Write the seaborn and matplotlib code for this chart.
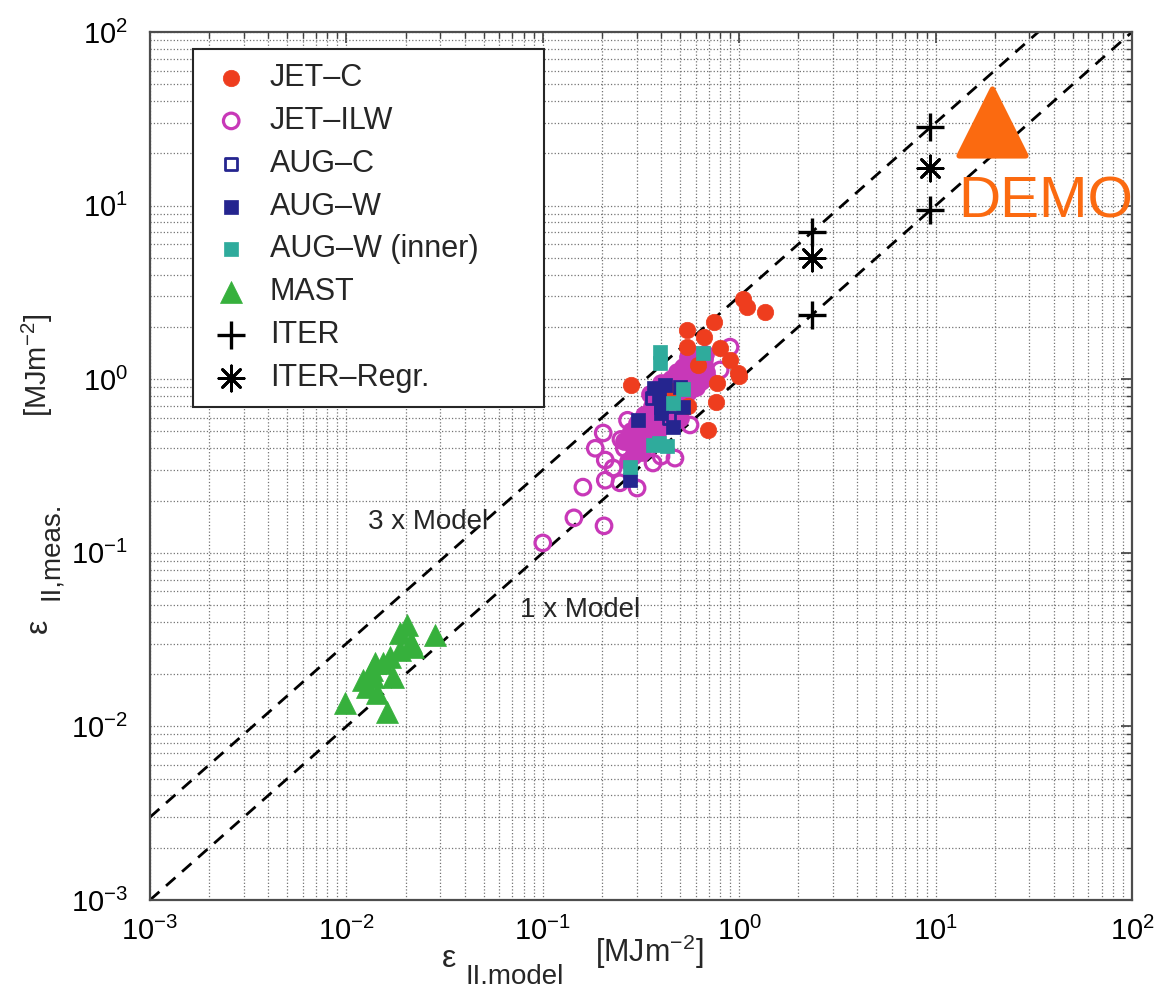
import numpy as np
import pandas as pd
import matplotlib
matplotlib.use("Agg")
import matplotlib.pyplot as plt
import seaborn as sns
from matplotlib.ticker import LogLocator, LogFormatterSciNotation, NullFormatter

# ---- data (MJ m^-2) ----
jet_c_x = [1.05, 1.10, 1.35, 0.74, 0.54, 0.66, 0.80, 0.90, 0.99, 0.28, 0.77, 0.76, 0.69, 0.54, 0.45, 0.55, 0.62, 1.00]
jet_c_y = [2.90, 2.60, 2.45, 2.14, 1.92, 1.75, 1.51, 1.29, 1.09, 0.93, 0.95, 0.74, 0.51, 1.53, 0.85, 0.70, 1.20, 1.05]

# JET-ILW: outer (isolated) circles and the dense core
jet_ilw_outer_x = [0.160, 0.208, 0.247, 0.302, 0.208, 0.228, 0.203, 0.364, 0.471, 0.40, 0.562, 0.898, 0.80,
                   0.100, 0.144, 0.205, 0.185, 0.25, 0.27, 0.33,
                   0.26, 0.28, 0.30, 0.32, 0.34, 0.36, 0.38, 0.40, 0.42, 0.44, 0.46, 0.48, 0.50, 0.52, 0.54,
                   0.56, 0.58, 0.60, 0.63, 0.66, 0.29, 0.33, 0.37, 0.41, 0.45, 0.49, 0.53, 0.57, 0.61, 0.65]
jet_ilw_outer_y = [0.239, 0.262, 0.253, 0.236, 0.342, 0.308, 0.490, 0.329, 0.351, 0.36, 0.545, 1.53, 1.13,
                   0.114, 0.159, 0.143, 0.40, 0.45, 0.58, 0.62,
                   0.40, 0.43, 0.48, 0.52, 0.58, 0.60, 0.68, 0.72, 0.80, 0.85, 0.90, 0.95, 1.02, 1.05, 1.12,
                   1.15, 1.20, 1.22, 1.28, 1.38, 0.36, 0.43, 0.50, 0.60, 0.70, 0.82, 0.88, 0.98, 1.02, 1.15]
jet_ilw_core_x = [0.26, 0.27, 0.28, 0.29, 0.30, 0.31, 0.32, 0.33, 0.34, 0.35, 0.36, 0.37, 0.38, 0.39,
                  0.40, 0.41, 0.42, 0.43, 0.44, 0.45, 0.46, 0.47, 0.48, 0.49, 0.50, 0.52, 0.53, 0.55, 0.56,
                  0.58, 0.60, 0.62, 0.64, 0.66, 0.68, 0.30, 0.34, 0.38, 0.42, 0.46, 0.50, 0.54, 0.58,
                  0.62, 0.35, 0.40, 0.45, 0.50, 0.55, 0.60,
                  0.29, 0.31, 0.33, 0.35, 0.37, 0.39, 0.41, 0.43, 0.45, 0.47, 0.49, 0.51, 0.53, 0.55,
                  0.57, 0.59, 0.61, 0.63, 0.65, 0.67, 0.31, 0.36, 0.41, 0.46, 0.51, 0.56, 0.61, 0.66]
jet_ilw_core_y = [0.44, 0.34, 0.50, 0.41, 0.56, 0.47, 0.38, 0.62, 0.52, 0.44, 0.70, 0.58, 0.49, 0.80,
                  0.66, 0.55, 0.90, 0.74, 0.62, 1.00, 0.82, 0.68, 1.10, 0.92, 0.76, 1.18, 1.00, 0.84, 1.25,
                  1.08, 1.38, 1.15, 0.98, 1.30, 1.10, 0.46, 0.56, 0.64, 0.70, 0.78, 0.86, 0.94, 1.00,
                  1.05, 0.82, 0.95, 0.55, 0.60, 1.35, 0.90,
                  0.46, 0.51, 0.55, 0.60, 0.64, 0.71, 0.75, 0.82, 0.88, 0.93, 0.99, 1.06, 1.10, 1.17,
                  1.20, 1.26, 1.30, 1.33, 1.25, 1.40, 0.44, 0.54, 0.62, 0.74, 0.82, 0.92, 1.10, 1.20]

aug_c_x = [0.36, 0.44]
aug_c_y = [0.78, 0.60]

aug_w_x = [0.419, 0.50, 0.39, 0.40, 0.305, 0.40, 0.46, 0.278, 0.52, 0.37]
aug_w_y = [0.926, 0.90, 0.79, 0.69, 0.582, 0.64, 0.53, 0.262, 0.69, 0.89]

aug_w_inner_x = [0.395, 0.395, 0.655, 0.46, 0.39, 0.43, 0.365, 0.278, 0.52]
aug_w_inner_y = [1.435, 1.24, 1.42, 0.73, 0.43, 0.41, 0.42, 0.312, 0.88]

mast_x = [0.0204, 0.0282, 0.0214, 0.0187, 0.0167, 0.0219, 0.0140, 0.0137, 0.0173, 0.0127, 0.0135,
          0.0143, 0.0098, 0.0161, 0.0122, 0.0154, 0.0187]
mast_y = [0.0384, 0.0336, 0.0306, 0.0275, 0.0251, 0.0285, 0.0232, 0.0193, 0.0193, 0.0169, 0.0211,
          0.0156, 0.0136, 0.0121, 0.0184, 0.0232, 0.0343]

iter_x = [2.35, 2.35, 9.4, 9.4]
iter_y = [7.05, 2.35, 28.2, 9.4]

iter_regr_x = [2.35, 9.4]
iter_regr_y = [5.0, 16.5]

demo_x = [19.4]
demo_y = [30.5]

model_range = [1e-3, 1e2]
model_factors = [3, 1]

legend_order = ["JET–C", "JET–ILW", "AUG–C", "AUG–W", "AUG–W (inner)", "MAST", "ITER", "ITER–Regr."]

# ---- style ----
sns.set_style("white")
plt.rcParams["font.family"] = ["Liberation Sans", "DejaVu Sans"]
plt.rcParams["mathtext.fontset"] = "custom"
plt.rcParams["mathtext.rm"] = "Liberation Sans"
plt.rcParams["mathtext.it"] = "Liberation Sans:italic"
plt.rcParams["axes.unicode_minus"] = True

FS = 20
C_JETC = "#ee3d1e"
C_ILW = "#c838b8"
C_AUG = "#25258f"
C_INNER = "#2fab9c"
C_MAST = "#36b03c"
C_DEMO = "#fb6a10"

W, H = 1163, 993


def df(xs, ys):
    return pd.DataFrame({"x": xs, "y": ys})


def fx(px):
    return px / W


def fy(py):
    return 1 - py / H


fig = plt.figure(figsize=(11.63, 9.93), dpi=100)
ax = fig.add_axes([150 / W, 93 / H, 982 / W, 868 / H])
ax.set_xscale("log")
ax.set_yscale("log")

# model lines
mr = np.array(model_range)
for f in model_factors:
    ax.plot(mr, f * mr, color="black", lw=2.0, ls=(0, (4.5, 3.2)), zorder=2)

# scatter series
# dense core of JET-ILW: overlapping rings read as a solid patch in the reference
sns.scatterplot(data=df(jet_ilw_core_x, jet_ilw_core_y), x="x", y="y", ax=ax, marker="o", s=125,
                color=C_ILW, edgecolor=C_ILW, linewidth=2.3, zorder=3, legend=False)
sns.scatterplot(data=df(jet_ilw_outer_x, jet_ilw_outer_y),
                x="x", y="y", ax=ax, marker="o", s=125, color=C_ILW, facecolor="none",
                edgecolor=C_ILW, linewidth=2.3, label="JET–ILW", zorder=3)
sns.scatterplot(data=df(jet_c_x, jet_c_y), x="x", y="y", ax=ax, marker="o", s=140,
                color=C_JETC, edgecolor=C_JETC, linewidth=0.5, label="JET–C", zorder=4)
sns.scatterplot(data=df(aug_c_x, aug_c_y), x="x", y="y", ax=ax, marker="s", s=70,
                color=C_AUG, facecolor="none", edgecolor=C_AUG, linewidth=2.0, label="AUG–C", zorder=5)
sns.scatterplot(data=df(aug_w_x, aug_w_y), x="x", y="y", ax=ax, marker="s", s=100,
                color=C_AUG, edgecolor=C_AUG, linewidth=0.5, label="AUG–W", zorder=5)
sns.scatterplot(data=df(aug_w_inner_x, aug_w_inner_y), x="x", y="y", ax=ax, marker="s", s=100,
                color=C_INNER, edgecolor=C_INNER, linewidth=0.5, label="AUG–W (inner)", zorder=5)
sns.scatterplot(data=df(mast_x, mast_y), x="x", y="y", ax=ax, marker="^", s=250,
                color=C_MAST, edgecolor=C_MAST, linewidth=0.5, label="MAST", zorder=5)
sns.scatterplot(data=df(iter_x, iter_y), x="x", y="y", ax=ax, marker="+", s=420,
                color="black", linewidth=2.4, label="ITER", zorder=6)
sns.scatterplot(data=df(iter_regr_x, iter_regr_y), x="x", y="y", ax=ax, marker=(8, 2, 0), s=330,
                color="black", edgecolor="black", linewidth=2.0, label="ITER–Regr.", zorder=6)
sns.scatterplot(data=df(demo_x, demo_y), x="x", y="y", ax=ax, marker="^", s=2300,
                color=C_DEMO, edgecolor=C_DEMO, linewidth=4, zorder=6, legend=False)
ax.collections[-1].set_joinstyle("round")

ax.text(13.0, 10.4, "DEMO", color=C_DEMO, fontsize=42, ha="left", va="center", zorder=7)
ax.text(0.026, 0.150, "3 x Model", fontsize=FS, ha="center", va="center", zorder=7)
ax.text(0.155, 0.047, "1 x Model", fontsize=FS, ha="center", va="center", zorder=7)

# axes cosmetics
ax.set_xlim(1e-3, 1e2)
ax.set_ylim(1e-3, 1e2)
ax.set_xlabel("")
ax.set_ylabel("")
for axis in (ax.xaxis, ax.yaxis):
    axis.set_major_locator(LogLocator(base=10, numticks=12))
    axis.set_minor_locator(LogLocator(base=10, subs=np.arange(2, 10), numticks=12))
    axis.set_major_formatter(LogFormatterSciNotation())
    axis.set_minor_formatter(NullFormatter())
ax.grid(True, which="both", linestyle=":", color="0.45", linewidth=0.9, zorder=0)
ax.set_axisbelow(True)
ax.tick_params(which="both", direction="in", top=True, right=True, colors="0.25", labelcolor="black",
               labelsize=21)
ax.tick_params(which="major", length=8, width=1.2)
ax.tick_params(axis="x", which="major", pad=12)
ax.tick_params(axis="y", which="major", pad=16)
ax.tick_params(which="minor", length=4, width=1.0)
for sp in ax.spines.values():
    sp.set_linewidth(1.6)
    sp.set_color("0.3")

# axis labels built from pieces so the subscripts keep a near full size
fig.text(fx(442), fy(967), "ε", fontsize=23, ha="left", va="baseline")
fig.text(fx(466), fy(984), "II.model", fontsize=20, ha="left", va="baseline")
fig.text(fx(595), fy(962), "[MJm$^{\\mathregular{-2}}$]", fontsize=22, ha="left", va="baseline")

ykw = dict(rotation=90, rotation_mode="anchor", ha="left", va="baseline")
fig.text(fx(47), fy(633), "ε", fontsize=23, **ykw)
fig.text(fx(58), fy(600), "II,meas.", fontsize=20, **ykw)
fig.text(fx(47), fy(417), "[MJm$^{\\mathregular{-2}}$]", fontsize=21, **ykw)

handles, labels = ax.get_legend_handles_labels()
hmap = dict(zip(labels, handles))
leg = ax.legend([hmap[k] for k in legend_order], legend_order, loc="upper left", mode="expand",
                bbox_to_anchor=(0.0438, 0.0, 0.3574, 0.980), borderaxespad=0, fontsize=22,
                frameon=True, fancybox=False, framealpha=1, edgecolor="0.15", handlelength=1.6,
                handletextpad=0.46, labelspacing=0.42, borderpad=0.45)
leg.get_frame().set_linewidth(1.5)

fig.savefig("out.png", dpi=100)
